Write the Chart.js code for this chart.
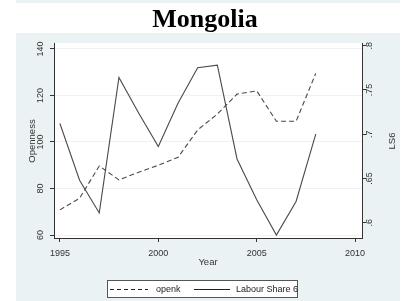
<!DOCTYPE html>
<html>
<head>
<meta charset="utf-8">
<script src="https://cdn.jsdelivr.net/npm/chart.js@4"></script>
<style>
  body { margin: 0; background: #fff; }
  canvas { display: block; }
</style>
</head>
<body>
<canvas id="chart" width="408" height="301"></canvas>
<script>
// datos
const years = [1995, 1996, 1997, 1998, 1999, 2000, 2001, 2002, 2003, 2004, 2005, 2006, 2007, 2008];
const openk = [70.8, 75.8, 89.7, 83.7, 87.0, 90.0, 93.4, 105.2, 112.0, 120.6, 122.0, 108.9, 108.9, 129.5];
const ls6 = [0.712, 0.648, 0.611, 0.764, 0.724, 0.686, 0.735, 0.775, 0.778, 0.672, 0.626, 0.586, 0.624, 0.700];

const xTicks = [1995, 2000, 2005, 2010];
const leftTicks = [60, 80, 100, 120, 140];
const rightTicks = [0.6, 0.65, 0.7, 0.75, 0.8];
const rightTickLabels = ['.6', '.65', '.7', '.75', '.8'];

const bg = '#eaf2f3';
const ink = '#333';
const lineCol = '#4a4a4a';

// fondo, titulo y textos girados
const decor = {
    id: 'decor',
    beforeDraw(chart) {
        const c = chart.ctx;
        const a = chart.chartArea;
        c.save();
        c.fillStyle = '#fff';
        c.fillRect(0, 0, 408, 301);
        c.fillStyle = bg;
        c.fillRect(16, 0, 384, 3);
        c.fillRect(16, 33, 384, 268);
        c.fillStyle = '#fff';
        c.fillRect(a.left, a.top, a.right - a.left, a.bottom - a.top);
        c.restore();
    },
    afterDraw(chart) {
        const c = chart.ctx;
        c.save();
        c.fillStyle = '#000';
        c.font = 'bold 26px "Liberation Serif", "Times New Roman", serif';
        c.textAlign = 'center';
        c.textBaseline = 'alphabetic';
        c.fillText('Mongolia', 205, 27);

        c.fillStyle = ink;
        c.font = '9px "Liberation Sans", Arial, sans-serif';
        c.textBaseline = 'middle';
        const yl = chart.scales.y;
        leftTicks.forEach(v => {
            c.save();
            c.translate(41, yl.getPixelForValue(v));
            c.rotate(-Math.PI / 2);
            c.fillText(String(v), 0, 0);
            c.restore();
        });
        const yr = chart.scales.y2;
        rightTicks.forEach((v, i) => {
            c.save();
            c.translate(370, yr.getPixelForValue(v));
            c.rotate(-Math.PI / 2);
            c.fillText(rightTickLabels[i], 0, 0);
            c.restore();
        });

        c.font = '9.5px "Liberation Sans", Arial, sans-serif';
        c.save();
        c.translate(32, 141);
        c.rotate(-Math.PI / 2);
        c.fillText('Openness', 0, 0);
        c.restore();
        c.save();
        c.translate(392, 141);
        c.rotate(-Math.PI / 2);
        c.fillText('LS6', 0, 0);
        c.restore();
        c.fillText('Year', 208, 262);

        // leyenda
        c.fillStyle = '#fff';
        c.fillRect(107, 280, 191, 18);
        c.strokeStyle = '#555';
        c.lineWidth = 1;
        c.strokeRect(107.5, 280.5, 190, 17);
        c.strokeStyle = '#222';
        c.beginPath();
        c.setLineDash([4, 3]);
        c.moveTo(110, 289.5);
        c.lineTo(148, 289.5);
        c.stroke();
        c.setLineDash([]);
        c.beginPath();
        c.moveTo(194, 289.5);
        c.lineTo(230, 289.5);
        c.stroke();
        c.fillStyle = '#222';
        c.font = '9px "Liberation Sans", Arial, sans-serif';
        c.textAlign = 'left';
        c.fillText('openk', 156, 290);
        c.fillText('Labour Share 6', 236, 290);
        c.restore();
    }
};

const ctx = document.getElementById('chart').getContext('2d');
const chart = new Chart(ctx, {
    type: 'line',
    data: {
        datasets: [{
            label: 'openk',
            data: years.map((y, i) => ({ x: y, y: openk[i] })),
            borderColor: lineCol,
            borderWidth: 1.1,
            borderDash: [5, 3],
            pointRadius: 0,
            tension: 0,
            yAxisID: 'y'
        }, {
            label: 'Labour Share 6',
            data: years.map((y, i) => ({ x: y, y: ls6[i] })),
            borderColor: lineCol,
            borderWidth: 1.1,
            pointRadius: 0,
            tension: 0,
            yAxisID: 'y2'
        }]
    },
    options: {
        responsive: false,
        animation: false,
        devicePixelRatio: 1,
        layout: { padding: { top: 43, left: 0, right: 0, bottom: 0 } },
        plugins: {
            legend: { display: false },
            title: { display: false },
            tooltip: { enabled: false }
        },
        scales: {
            x: {
                type: 'linear',
                min: 1994.7,
                max: 2010.35,
                afterBuildTicks: s => { s.ticks = xTicks.map(v => ({ value: v })); },
                afterFit: s => { s.height = 63; },
                grid: { drawOnChartArea: false, tickLength: 4, tickColor: ink },
                border: { color: ink, width: 1 },
                ticks: {
                    color: ink,
                    padding: 6,
                    maxRotation: 0,
                    font: { family: '"Liberation Sans", Arial, sans-serif', size: 9 },
                    callback: v => String(v)
                }
            },
            y: {
                position: 'left',
                min: 58.71,
                max: 142.58,
                afterBuildTicks: s => { s.ticks = leftTicks.map(v => ({ value: v })); },
                afterFit: s => { s.width = 54; },
                grid: { color: '#edf3f4', lineWidth: 1, tickLength: 4, tickColor: ink },
                border: { color: ink, width: 1 },
                ticks: { display: false }
            },
            y2: {
                position: 'right',
                min: 0.5827,
                max: 0.803,
                afterBuildTicks: s => { s.ticks = rightTicks.map(v => ({ value: v })); },
                afterFit: s => { s.width = 46; },
                grid: { drawOnChartArea: false, tickLength: 4, tickColor: ink },
                border: { color: ink, width: 1 },
                ticks: { display: false }
            }
        }
    },
    plugins: [decor]
});
</script>
</body>
</html>
